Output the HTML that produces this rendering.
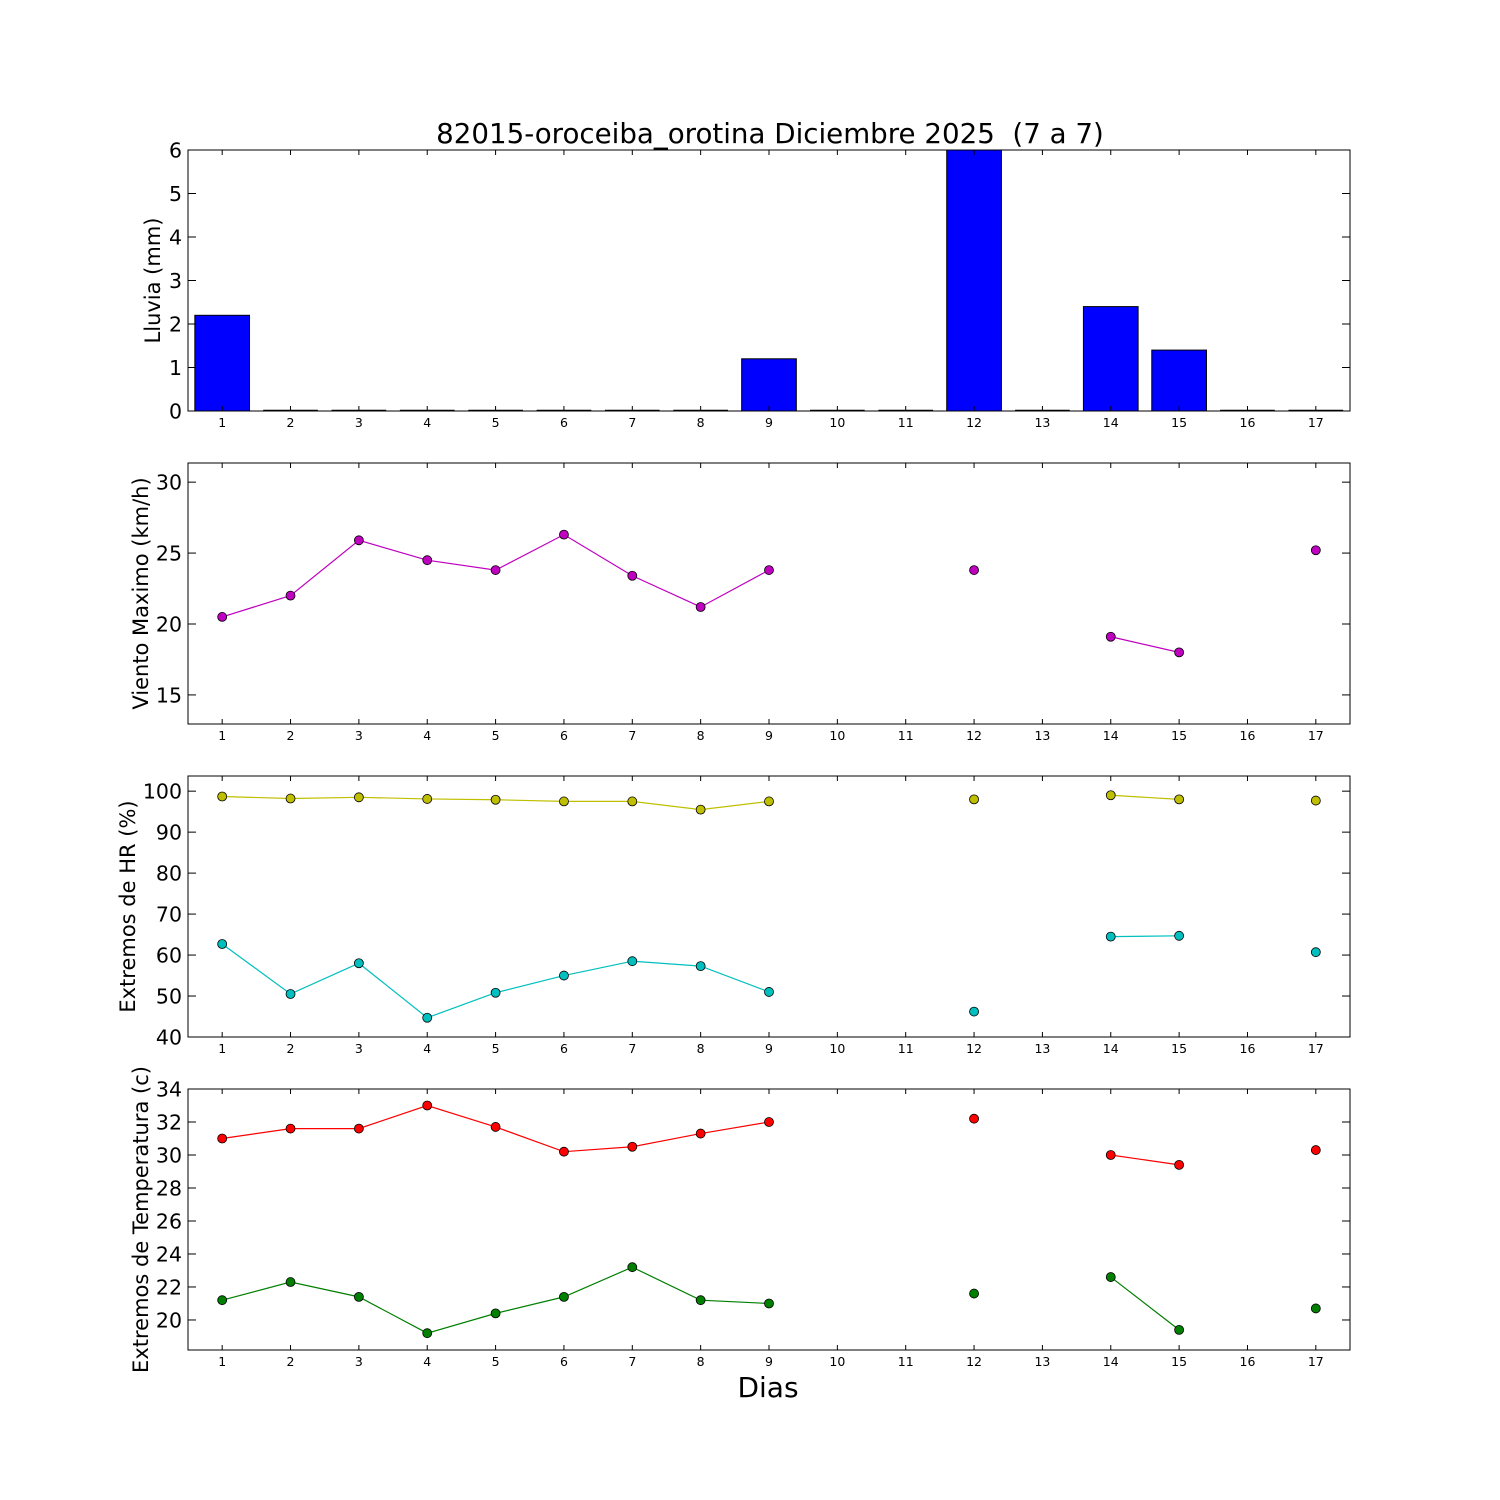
<!DOCTYPE html>
<html><head><meta charset="utf-8"><style>
body{margin:0;background:#fff}
svg{display:block}
text{font-family:"DejaVu Sans","Liberation Sans",sans-serif;fill:#000}
</style></head><body>
<svg id="chart" width="1500" height="1500" viewBox="0 0 1500 1500" xmlns="http://www.w3.org/2000/svg">
<rect width="1500" height="1500" fill="#fff"/>
<text x="770" y="143" font-size="27.7" text-anchor="middle" xml:space="preserve" style="white-space:pre">82015-oroceiba_orotina Diciembre 2025  (7 a 7)</text>
<text x="768" y="1397" font-size="28" text-anchor="middle">Dias</text>
</svg>
<script>
const days=[1,2,3,4,5,6,7,8,9,10,11,12,13,14,15,16,17];
const rain=[2.2,0,0,0,0,0,0,0,1.2,0,0,6,0,2.4,1.4,0,0];
const wind=[20.5,22,25.9,24.5,23.8,26.3,23.4,21.2,23.8,null,null,23.8,null,19.1,18,null,25.2];
const hrMax=[98.7,98.2,98.5,98.1,97.9,97.5,97.5,95.5,97.5,null,null,98,null,99,98,null,97.7];
const hrMin=[62.7,50.5,58,44.7,50.8,55,58.5,57.3,51,null,null,46.2,null,64.5,64.7,null,60.7];
const tMax=[31,31.6,31.6,33,31.7,30.2,30.5,31.3,32,null,null,32.2,null,30,29.4,null,30.3];
const tMin=[21.2,22.3,21.4,19.2,20.4,21.4,23.2,21.2,21,null,null,21.6,null,22.6,19.4,null,20.7];
const rainTicks=[0,1,2,3,4,5,6];
const windTicks=[15,20,25,30];
const hrTicks=[40,50,60,70,80,90,100];
const tTicks=[20,22,24,26,28,30,32,34];

const NS="http://www.w3.org/2000/svg";
const svg=document.getElementById('chart');
const L=188,R=1350;
const X=d=>L+(d-0.5)/17*(R-L);
function el(tag,attrs,parent){const e=document.createElementNS(NS,tag);for(const k in attrs)e.setAttribute(k,attrs[k]);(parent||svg).appendChild(e);return e;}

function panel(name,top,bot,ymin,ymax,yticks,ylabel){
  const g=el('g',{});
  
  
  const Y=v=>bot-(v-ymin)/(ymax-ymin)*(bot-top);
  return {g,Y,top,bot,yticks,ylabel,name};
}
function frame(p){
  const {g,Y,top,bot}=p;
  const r=el('rect',{x:L,y:top,width:R-L,height:bot-top,fill:'none',stroke:'#000','stroke-width':1},g);
  
  
  days.forEach(d=>{
    const x=X(d);
    el('line',{x1:x,x2:x,y1:bot,y2:bot-5,stroke:'#000'},g);
    el('line',{x1:x,x2:x,y1:top,y2:top+5,stroke:'#000'},g);
    const t=el('text',{x:x,y:bot+16,'font-size':12.5,'text-anchor':'middle'},g);
    t.textContent=d;
    
    
  });
  p.yticks.forEach(v=>{
    const y=Y(v);
    el('line',{x1:L,x2:L+8,y1:y,y2:y,stroke:'#000'},g);
    el('line',{x1:R,x2:R-8,y1:y,y2:y,stroke:'#000'},g);
    const t=el('text',{x:L-6,y:y+7.5,'font-size':20.5,'text-anchor':'end'},g);
    t.textContent=v;
    
    
  });
  const cy=(top+bot)/2;
  const yl=el('text',{x:0,y:0,'font-size':21,'text-anchor':'middle',transform:`translate(${p.lx||159},${cy}) rotate(-90)`},g);
  yl.textContent=p.ylabel;
  
  
}
function series(p,vals,color,nm){
  const {g,Y}=p;
  let seg=[];
  const segs=[];
  vals.forEach((v,i)=>{ if(v===null){if(seg.length)segs.push(seg);seg=[];} else seg.push([X(days[i]),Y(v)]); });
  if(seg.length)segs.push(seg);
  segs.forEach(s=>{ if(s.length>1){
    const l=el('polyline',{points:s.map(q=>q.join(',')).join(' '),fill:'none',stroke:color,'stroke-width':1.2},g);
    
    
  }});
  vals.forEach((v,i)=>{ if(v===null)return;
    const c=el('circle',{cx:X(days[i]),cy:Y(v),r:4.5,fill:color,stroke:'#000','stroke-width':0.8},g);
    
    
  });
}
const p1=panel('rain',150,411,0,6,rainTicks,'Lluvia (mm)');p1.lx=160;
rain.forEach((v,i)=>{
  const x=X(days[i])-0.4*(R-L)/17,w=0.8*(R-L)/17;
  const top=Math.max(p1.Y(Math.min(v,6)),150);
  if(v>0){
    const b=el('rect',{x:x,y:top,width:w,height:411-top,fill:'#0000ff',stroke:'#000','stroke-width':1},p1.g);
    
    
  } else {
    const b=el('line',{x1:x,x2:x+w,y1:410.5,y2:410.5,stroke:'#000','stroke-width':1.5},p1.g);
    
    
  }
});
frame(p1);
const p2=panel('wind',463,724,12.95,31.35,windTicks,'Viento Maximo (km/h)');p2.lx=148;
series(p2,wind,'#bf00bf','wind');frame(p2);
const p3=panel('humidity',776,1037,40,103.7,hrTicks,'Extremos de HR (%)');p3.lx=135;
series(p3,hrMax,'#bfbf00','hr-max');series(p3,hrMin,'#00bfbf','hr-min');frame(p3);
const p4=panel('temperature',1089,1350,18.18,34,tTicks,'Extremos de Temperatura (c)');p4.lx=148;
series(p4,tMax,'#ff0000','temp-max');series(p4,tMin,'#007f00','temp-min');frame(p4);
</script>
</body></html>
